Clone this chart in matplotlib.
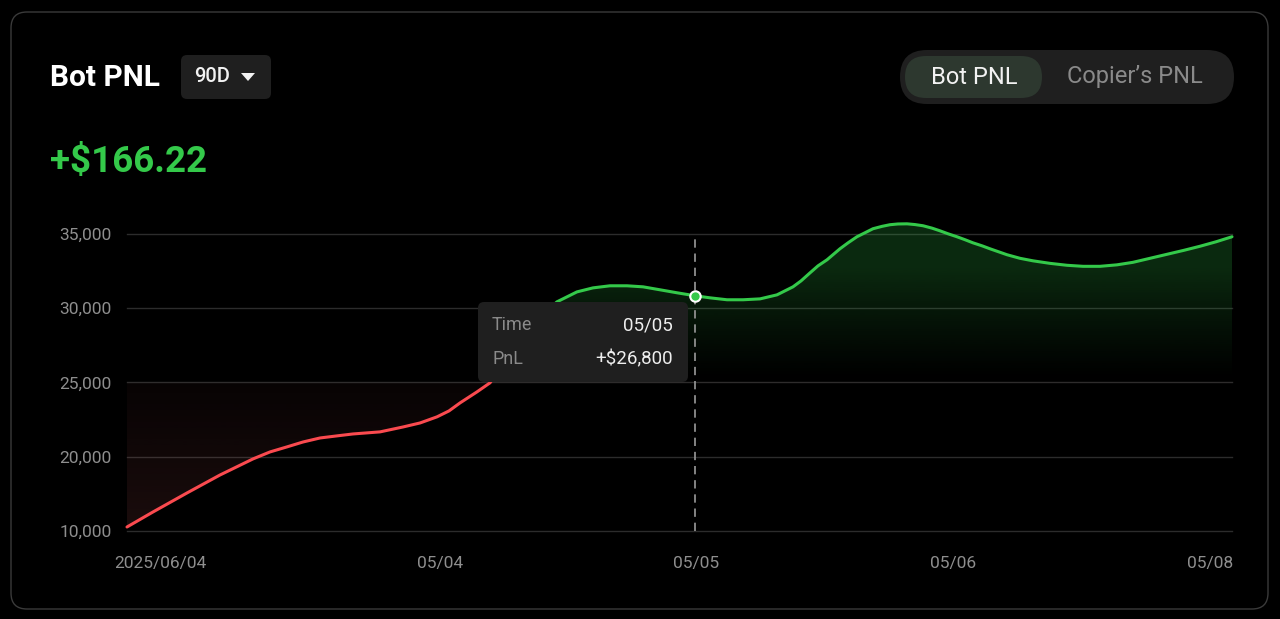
import numpy as np
import matplotlib
matplotlib.use("Agg")
import matplotlib.pyplot as plt
from matplotlib.patches import FancyBboxPatch, Rectangle, Polygon

plt.rcParams["font.family"] = ["Roboto", "DejaVu Sans"]

# PnL curve, x runs 0..100 along the time axis
pnl_x = [0, 2.35, 5.43, 8.42, 11.40, 12.94, 14.48, 15.93, 17.47, 19.00, 20.45,
         22.90, 24.98, 26.52, 28.05, 29.14, 30.14, 31.67, 32.85, 34.21, 35.84,
         37.38, 38.91, 40.72, 42.17, 43.71, 45.25, 46.70, 48.24, 49.77, 51.40,
         52.76, 54.30, 55.75, 57.29, 58.82, 60.27, 61.00, 61.81, 62.53, 63.35,
         64.52, 65.25, 66.06, 66.79, 67.51, 68.33, 69.05, 69.77, 70.59, 71.31,
         72.04, 72.85, 73.57, 74.30, 75.11, 75.84, 76.56, 77.38, 78.10, 79.64,
         80.81, 81.99, 83.53, 85.07, 86.52, 88.05, 89.59, 91.04, 92.58, 94.12,
         95.66, 97.10, 98.55, 100]
pnl_y = [10540, 12560, 15120, 17540, 19700, 20320, 20660, 20990, 21260, 21400, 21530,
         21670, 22000, 22270, 22680, 23080, 23620, 24360, 24970, 26380, 27990,
         29340, 30420, 31090, 31360, 31500, 31500, 31430, 31230, 31030, 30830,
         30690, 30560, 30560, 30620, 30890, 31430, 31830, 32370, 32840, 33250,
         33990, 34390, 34800, 35070, 35340, 35500, 35610, 35660, 35670, 35620,
         35540, 35380, 35200, 35000, 34800, 34600, 34390, 34190, 33990, 33590,
         33350, 33180, 33010, 32880, 32810, 32810, 32910, 33080, 33350, 33620,
         33890, 34160, 34460, 34800]

tick_x = [3.0, 28.3, 51.5, 74.8, 98.0]
tick_labels = ["2025/06/04", "05/04", "05/05", "05/06", "05/08"]
y_ticks = [10000, 20000, 25000, 30000, 35000]
y_breaks = [10000, 20000, 25000, 30000, 35000, 40000]  # axis steps are uneven
baseline = 25000

hover_x, hover_y = 51.4, 30830
hover_time, hover_pnl = "05/05", "+$26,800"
total_pnl = "+$166.22"

GREEN = "#34C94A"
RED = "#FA4A4F"
GREY = "#8e8e8e"


def fwd(v):
    return np.interp(v, y_breaks, np.arange(len(y_breaks)))


def inv(p):
    return np.interp(p, np.arange(len(y_breaks)), y_breaks)


fig = plt.figure(figsize=(12.8, 6.19), dpi=100, facecolor="black")
H = 619


def box(x0, y0, x1, y1, r, **kw):
    p = FancyBboxPatch((x0 / 100, (H - y1) / 100), (x1 - x0) / 100, (y1 - y0) / 100,
                       boxstyle=f"round,pad=0,rounding_size={r / 100}",
                       transform=fig.dpi_scale_trans, **kw)
    fig.add_artist(p)
    return p


def label(x, y, s, **kw):
    return fig.text(x / 100, (H - y) / 100, s, transform=fig.dpi_scale_trans, **kw)


# card border and header
box(11, 12, 1268, 609, 16, facecolor="none", edgecolor="#3a3a3a", lw=1)
label(50, 78, "Bot PNL", fontsize=21.5, fontweight="bold", color="white", va="center")
box(181, 55, 271, 99, 6, facecolor="#1f1f1f", edgecolor="none")
label(194, 77, "90D", fontsize=14.5, fontweight="medium", color="#f2f2f2", va="center")
fig.add_artist(Polygon([(241 / 100, (H - 73) / 100), (255 / 100, (H - 73) / 100),
                        (248 / 100, (H - 81) / 100)], closed=True,
                       transform=fig.dpi_scale_trans, facecolor="#f2f2f2", edgecolor="none"))
label(50, 162, total_pnl, fontsize=26.5, fontweight="bold", color=GREEN, va="center")

box(900, 50, 1234, 104, 27, facecolor="#1f1f1f", edgecolor="none")
box(905, 56, 1042, 98, 21, facecolor="#2d382f", edgecolor="none")
label(974, 77, "Bot PNL", fontsize=17, color="#f2f2f2", ha="center", va="center")
label(1135, 77, "Copier\u2019s PNL", fontsize=17, color="#8a8a8a", ha="center", va="center")

# chart area
ax = fig.add_axes([127 / 1280, 1 - 531 / H, (1232 - 127) / 1280, (531 - 210) / H])
ax.set_facecolor("black")
ax.set_yscale("function", functions=(fwd, inv))
ax.set_xlim(0, 100)
ax.set_ylim(10000, 36600)
ax.set_autoscale_on(False)
for s in ax.spines.values():
    s.set_visible(False)

ax.set_yticks(y_ticks, [f"{v:,}" for v in y_ticks])
ax.set_xticks(tick_x, tick_labels)
ax.minorticks_off()
ax.tick_params(which="both", length=0, colors=GREY, labelsize=12.5)
ax.tick_params(axis="y", pad=11)
ax.tick_params(axis="x", pad=18)
ax.yaxis.grid(True, color="#2c2c2c", lw=1)
ax.set_axisbelow(True)
for gl in ax.get_ygridlines():
    gl.set_clip_on(False)

# gradient fills clipped to the area between the curve and the 25,000 baseline
y0, y1 = ax.get_ylim()
yb = (fwd(baseline) - fwd(y0)) / (fwd(y1) - fwd(y0))
area = ax.fill_between(pnl_x, pnl_y, baseline, facecolor="none", edgecolor="none")
clip_path, clip_tr = area.get_paths()[0], area.get_transform()

n = 256
red_grad = np.zeros((n, 1, 4))
red_grad[..., :3] = matplotlib.colors.to_rgb("#c45a5c")
red_grad[:, 0, 3] = np.linspace(0.14, 0.04, n)
im_r = ax.imshow(red_grad, extent=[0, 1, 0, yb], origin="lower", aspect="auto",
                 transform=ax.transAxes, zorder=1, interpolation="bilinear")
im_r.set_clip_path(clip_path, clip_tr)

t = np.linspace(0, 1, n)
green_grad = np.zeros((n, 1, 4))
green_grad[..., :3] = matplotlib.colors.to_rgb(GREEN)
green_grad[:, 0, 3] = 0.21 * np.clip(t * 1.5, 0, 1) ** 1.2
im_g = ax.imshow(green_grad, extent=[0, 1, yb, 1], origin="lower", aspect="auto",
                 transform=ax.transAxes, zorder=1, interpolation="bilinear")
im_g.set_clip_path(clip_path, clip_tr)

# the line is red below the baseline and green above it
red_line, = ax.plot(pnl_x, pnl_y, color=RED, lw=2.2, zorder=3,
                    solid_capstyle="round", solid_joinstyle="round")
green_line, = ax.plot(pnl_x, pnl_y, color=GREEN, lw=2.2, zorder=3,
                      solid_capstyle="round", solid_joinstyle="round")
red_line.set_clip_path(Rectangle((-0.1, 5000), 1.2, baseline - 5000,
                                 transform=ax.get_yaxis_transform()))
green_line.set_clip_path(Rectangle((-0.1, baseline), 1.2, 20000,
                                   transform=ax.get_yaxis_transform()))

# hover crosshair and tooltip
ax.axvline(hover_x, ymin=0, ymax=0.91, color="#9a9a9a", lw=1.2,
           dashes=(5, 3.5), zorder=2)
ax.plot([hover_x], [hover_y], "o", ms=7.5, mfc=GREEN, mec="white", mew=1.5, zorder=6)

box(478, 302, 688, 382, 6, facecolor="#1f1f1f", edgecolor="none", zorder=10)
label(492, 325, "Time", fontsize=13, color="#8a8a8a", va="center", zorder=11)
label(673, 325, hover_time, fontsize=13.5, color="#eeeeee", ha="right", va="center", zorder=11)
label(492, 359, "PnL", fontsize=13, color="#8a8a8a", va="center", zorder=11)
label(673, 359, hover_pnl, fontsize=13.5, color="#eeeeee", ha="right", va="center", zorder=11)

fig.savefig("out.png", dpi=100, facecolor="black")
